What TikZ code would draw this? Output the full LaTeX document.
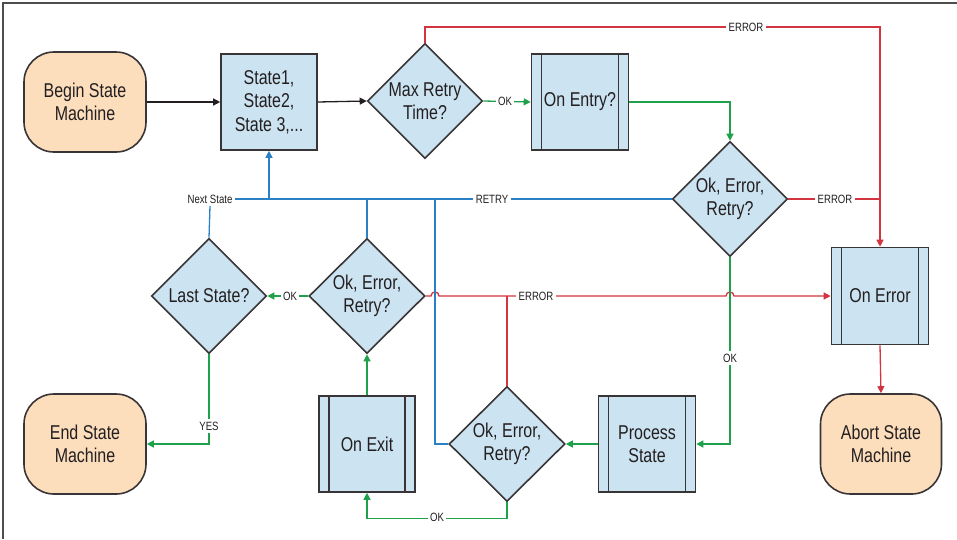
\documentclass[tikz,border=0pt]{standalone}
\usepackage{fontspec}
\setmainfont{Liberation Sans}[FakeStretch=0.8]
\usetikzlibrary{shapes.geometric,arrows.meta,calc}
\definecolor{cred}{HTML}{D2353F}
\definecolor{cgreen}{HTML}{1FA04A}
\definecolor{cblue}{HTML}{2B7FC3}
\definecolor{boxblue}{HTML}{CCE3F1}
\definecolor{peach}{HTML}{FCDEBD}
\definecolor{ink}{HTML}{231F20}
\begin{document}
\begin{tikzpicture}[x=1pt,y=-1pt,
 base/.style={draw=ink!90, line width=1.6pt, text=ink, font=\fontsize{20}{23.5}\selectfont, align=center, inner sep=0pt},
 term/.style={base, fill=peach, rounded corners=30pt, minimum width=122pt, minimum height=100pt},
 sbox/.style={base, fill=boxblue, minimum width=96pt, minimum height=96pt},
 proc/.style={sbox, path picture={\draw[ink!90, line width=1.6pt]
   ([xshift=10pt]path picture bounding box.north west) -- ([xshift=10pt]path picture bounding box.south west)
   ([xshift=-10pt]path picture bounding box.north east) -- ([xshift=-10pt]path picture bounding box.south east);}},
 dec/.style={base, fill=boxblue, diamond, minimum width=115pt, minimum height=115pt},
 lbl/.style={fill=white, text=ink, font=\fontsize{12}{12}\selectfont, inner sep=2.5pt},
 line/.style={line width=1.3pt},
 conn/.style={line width=1.3pt, -{Triangle[length=7pt,width=7pt]}},
]
\useasboundingbox (0,0) rectangle (957,539);
\draw[line width=1.2pt, ink!80] (3,539) -- (3,3) -- (957,3);

% nodes
\node[term] (begin) at (85,102) {Begin State\\Machine};
\node[sbox] (state) at (269,102) {State1,\\State2,\\State 3,...};
\node[dec] (maxr) at (425,101) {Max Retry\\Time?};
\node[proc, minimum width=97pt] (onentry) at (580,102) {On Entry?};
\node[dec] (ok1) at (730,199) {Ok, Error,\\Retry?};
\node[proc, minimum width=97pt, minimum height=97pt] (onerror) at (880,296) {On Error};
\node[term, minimum width=121pt] (abort) at (881,444) {Abort State\\Machine};
\node[dec] (last) at (209,296) {Last State?};
\node[dec, minimum width=116pt] (ok2) at (367,296) {Ok, Error,\\Retry?};
\node[proc] (onexit) at (367,444) {On Exit};
\node[dec, minimum width=116pt] (ok3) at (507,444) {Ok, Error,\\Retry?};
\node[proc, minimum width=97pt] (process) at (647,444) {Process\\State};
\node[term] (endsm) at (85,444) {End State\\Machine};
\node[lbl] (next) at (210,199) {Next State};

\coordinate (toprow) at (0,27);

% black
\draw[conn, ink] (begin.east) -- (state.west);
\draw[conn, ink] (state.east) -- (maxr.west);

% red
\draw[conn, cred] (maxr.north) -- (maxr.north |- toprow) -| (onerror.north);
\draw[line, cred] (ok1.east) -- (ok1.east -| onerror.north);
\draw[line, cred] (ok3.north) -- (ok3.north |- ok2.east);
\draw[conn, cred] (ok2.east) -- (431,296) .. controls (431,290.7) and (439,290.7) .. (439,296)
   -- (726,296) .. controls (726,290.7) and (734,290.7) .. (734,296) -- (onerror.west);
\draw[conn, cred] (onerror.south) -- (abort.north);

% blue
\draw[line, cblue] (ok1.west) -- (next.east);
\draw[conn, cblue] (state.south |- next.east) -- (state.south);
\draw[line, cblue] (last.north) -- (next.south);
\draw[line, cblue] (ok2.north) -- (ok2.north |- next.east);
\draw[line, cblue] (ok3.west) -| (435,199);

% green
\draw[conn, cgreen] (maxr.east) -- (onentry.west);
\draw[conn, cgreen] (onentry.east) -| (ok1.north);
\draw[conn, cgreen] (ok1.south) |- (process.east);
\draw[conn, cgreen] (process.west) -- (ok3.east);
\draw[conn, cgreen] (ok3.south) -- ($(ok3.south)+(0,16)$) -| (onexit.south);
\draw[conn, cgreen] (onexit.north) -- (ok2.south);
\draw[conn, cgreen] (ok2.west) -- (last.east);
\draw[conn, cgreen] (last.south) |- (endsm.east);

% labels
\node[lbl] (l1) at (746,27) {ERROR};
\node[lbl] (l2) at (505,101) {OK};
\node[lbl] (l3) at (835,199) {ERROR};
\node[lbl] (l4) at (492,199) {RETRY};
\node[lbl] (l5) at (290,296) {OK};
\node[lbl] (l6) at (536,296) {ERROR};
\node[lbl] (l7) at (730,358) {OK};
\node[lbl] (l8) at (209,426) {YES};
\node[lbl] (l9) at (437,517) {OK};
\end{tikzpicture}
\end{document}
